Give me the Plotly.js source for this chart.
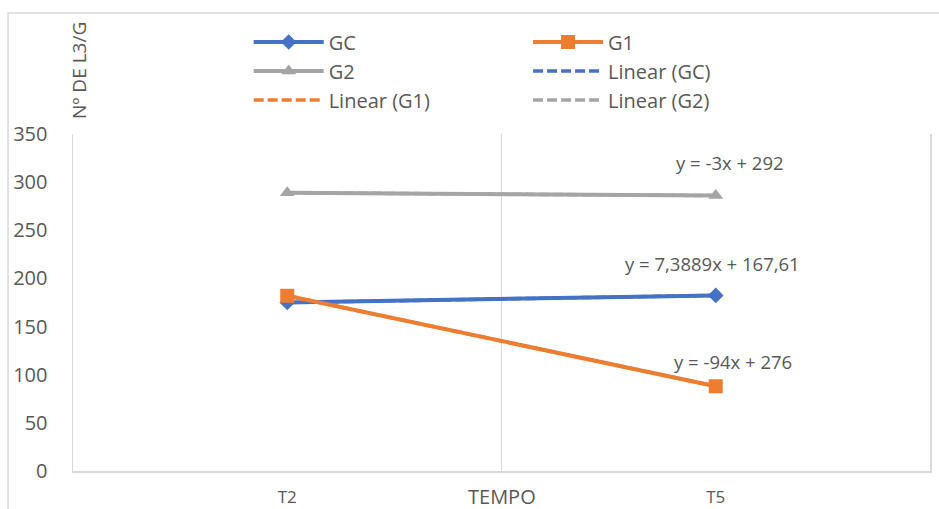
<!DOCTYPE html>
<html>
<head>
<meta charset="utf-8">
<script src="https://cdn.plot.ly/plotly-3.0.1.min.js"></script>
<style>
  html, body { margin: 0; padding: 0; background: #ffffff; }
  #chart { width: 939px; height: 509px; }
</style>
</head>
<body>
<div id="chart"></div>
<script>
// Sampling times (category axis)
const tempos = ['T2', 'T5'];

// Nº de L3/G per group
const gcValues = [175.0, 182.39];
const g1Values = [182, 88];
const g2Values = [289, 286];

// Linear trendline coefficients (y = slope·x + intercept, x = 1, 2)
const trendSlopes = [7.3889, -94, -3];
const trendIntercepts = [167.61, 276, 292];
const trendLabels = ['y = 7,3889x + 167,61', 'y = -94x + 276', 'y = -3x + 292'];
const trendLabelY = [216, 114, 320];
const trendLabelShift = [-3, 17, 14];

const seriesNames = ['GC', 'G1', 'G2'];
const colors = ['#4472C4', '#ED7D31', '#A5A5A5'];
const symbols = ['diamond', 'square', 'triangle-up'];
const symbolSizes = [12, 14, 13];
const seriesValues = [gcValues, g1Values, g2Values];
// column 1 holds GC, G2, Linear (G1); column 2 holds G1, Linear (GC), Linear (G2)
const seriesLegend = ['legend', 'legend2', 'legend'];
const trendLegend = ['legend2', 'legend', 'legend2'];

const textColor = '#595959';
const gridColor = '#D9D9D9';
const font = 'Open Sans, sans-serif';

const traces = [];

// trendlines underneath the data lines
seriesNames.forEach((name, i) => {
  const xs = tempos.map((_, k) => k + 1);
  traces.push({
    x: tempos,
    y: xs.map(v => trendSlopes[i] * v + trendIntercepts[i]),
    type: 'scatter',
    mode: 'lines',
    name: 'Linear (' + name + ')',
    legend: trendLegend[i],
    legendrank: 10 + i,
    line: { color: colors[i], width: 3.5, dash: '10px,4px' },
    hoverinfo: 'skip'
  });
});

seriesNames.forEach((name, i) => {
  traces.push({
    x: tempos,
    y: seriesValues[i],
    type: 'scatter',
    mode: 'lines+markers',
    name: name,
    legend: seriesLegend[i],
    legendrank: i,
    line: { color: colors[i], width: 4 },
    marker: { symbol: symbols[i], size: symbolSizes[i], color: colors[i] }
  });
});

const annotations = trendLabels.map((t, i) => ({
  text: t,
  xref: 'x', yref: 'y',
  x: 1, y: trendLabelY[i],
  xshift: trendLabelShift[i],
  showarrow: false,
  xanchor: 'center', yanchor: 'middle',
  font: { family: font, size: 18.5, color: textColor }
}));

annotations.push({
  text: 'Nº DE L3/G',
  xref: 'paper', yref: 'paper',
  x: 0.007, y: 1.19,
  textangle: -90,
  showarrow: false,
  xanchor: 'center', yanchor: 'middle',
  font: { family: font, size: 19, color: textColor }
});

annotations.push({
  text: 'TEMPO',
  xref: 'paper', yref: 'paper',
  x: 0.5, y: -0.075,
  showarrow: false,
  xanchor: 'center', yanchor: 'middle',
  font: { family: font, size: 20, color: textColor }
});

const legendCommon = {
  orientation: 'v',
  xanchor: 'left', yanchor: 'top',
  y: 1.331,
  itemwidth: 70,
  traceorder: 'normal',
  bgcolor: 'rgba(0,0,0,0)',
  font: { family: font, size: 20, color: textColor },
  itemclick: false, itemdoubleclick: false
};

const layout = {
  width: 939,
  height: 509,
  margin: { l: 73, r: 9, t: 134, b: 38 },
  paper_bgcolor: '#ffffff',
  plot_bgcolor: '#ffffff',
  showlegend: true,
  legend: Object.assign({}, legendCommon, { x: 0.205 }),
  legend2: Object.assign({}, legendCommon, { x: 0.531 }),
  xaxis: {
    type: 'category',
    range: [-0.5, 1.5],
    tickson: 'boundaries',
    showgrid: true,
    gridcolor: gridColor,
    gridwidth: 1.5,
    showline: true,
    linecolor: gridColor,
    linewidth: 1.5,
    ticks: '',
    ticklabelstandoff: 10,
    tickfont: { family: font, size: 17, color: textColor },
    zeroline: false,
    fixedrange: true
  },
  yaxis: {
    range: [0, 350],
    dtick: 50,
    showgrid: false,
    showline: true,
    mirror: true,
    linecolor: gridColor,
    linewidth: 1.5,
    ticks: '',
    ticklabelstandoff: 20,
    tickfont: { family: font, size: 20, color: textColor },
    zeroline: false,
    fixedrange: true
  },
  annotations: annotations,
  shapes: [{
    type: 'rect',
    xref: 'paper', yref: 'paper',
    x0: -0.0758, x1: 1.2, y0: -0.3, y1: 1.359,
    line: { color: gridColor, width: 1.5 },
    fillcolor: 'rgba(0,0,0,0)',
    layer: 'below'
  }]
};

Plotly.newPlot('chart', traces, layout, { displayModeBar: false, staticPlot: true });
</script>
</body>
</html>
